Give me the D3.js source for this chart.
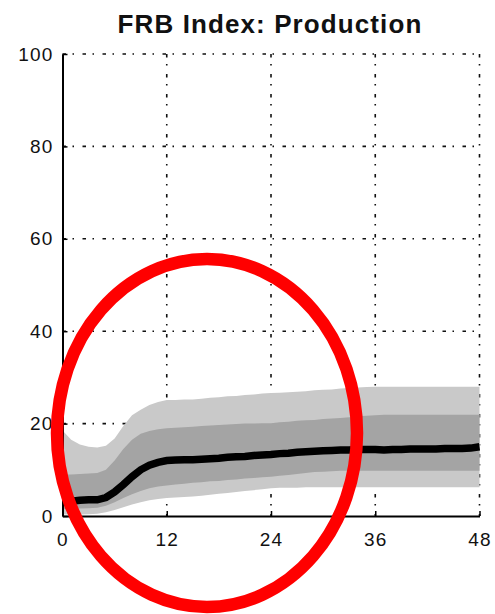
<!DOCTYPE html>
<html>
<head>
<meta charset="utf-8">
<script src="https://cdn.jsdelivr.net/npm/d3@7"></script>
<style>
  html, body { margin: 0; padding: 0; background: #fff; }
  svg { display: block; }
  .tick text { font-family: "Liberation Sans", Arial, sans-serif; }
</style>
</head>
<body>
<svg id="chart" width="495" height="614"></svg>
<script>
// ---- data (horizon in months, response of FRB production index) ----
const horizon = d3.range(0, 49);
const median = [3.0, 3.2, 3.4, 3.5, 3.5, 4.0, 5.2, 6.8, 8.5, 10.0, 11.0, 11.6, 12.0, 12.1, 12.2, 12.2, 12.3, 12.4, 12.5, 12.7, 12.8, 12.9, 13.1, 13.2, 13.3, 13.5, 13.6, 13.8, 13.9, 14.0, 14.1, 14.2, 14.3, 14.3, 14.4, 14.4, 14.4, 14.3, 14.4, 14.4, 14.5, 14.5, 14.5, 14.5, 14.6, 14.6, 14.6, 14.7, 15.0];
const outerUpper = [18.5, 16.5, 15.5, 15.0, 14.8, 15.2, 16.8, 19.5, 21.8, 23.0, 24.0, 24.7, 25.1, 25.1, 25.2, 25.2, 25.4, 25.6, 25.7, 25.9, 26.0, 26.2, 26.3, 26.5, 26.6, 26.7, 26.8, 26.9, 27.0, 27.2, 27.3, 27.4, 27.6, 27.7, 27.8, 27.9, 28.0, 28.0, 28.0, 28.0, 28.0, 28.0, 28.0, 28.0, 28.0, 28.0, 28.0, 28.0, 28.0];
const innerUpper = [9.0, 9.0, 9.1, 9.2, 9.3, 10.0, 12.0, 14.5, 16.5, 17.8, 18.4, 18.8, 19.0, 19.1, 19.2, 19.3, 19.5, 19.6, 19.7, 19.8, 19.9, 20.0, 20.0, 20.1, 20.1, 20.3, 20.4, 20.6, 20.7, 20.8, 21.0, 21.1, 21.2, 21.4, 21.6, 21.7, 21.8, 21.9, 21.9, 21.9, 21.9, 21.9, 21.9, 21.9, 21.9, 21.9, 21.9, 21.9, 21.9];
const innerLower = [1.5, 1.5, 1.6, 1.7, 1.8, 2.2, 3.0, 3.9, 4.7, 5.4, 6.0, 6.4, 6.6, 6.8, 7.0, 7.2, 7.3, 7.5, 7.6, 7.8, 7.9, 8.1, 8.2, 8.4, 8.5, 8.7, 8.9, 9.1, 9.3, 9.5, 9.6, 9.7, 9.8, 9.8, 9.8, 9.8, 9.8, 9.8, 9.8, 9.8, 9.8, 9.8, 9.8, 9.8, 9.8, 9.8, 9.8, 9.8, 9.8];
const outerLower = [0.3, 0.3, 0.3, 0.4, 0.5, 0.8, 1.3, 1.9, 2.5, 3.0, 3.4, 3.7, 3.9, 4.0, 4.1, 4.2, 4.4, 4.6, 4.8, 5.0, 5.2, 5.4, 5.6, 5.8, 6.0, 6.1, 6.1, 6.1, 6.2, 6.2, 6.2, 6.2, 6.2, 6.2, 6.2, 6.2, 6.2, 6.2, 6.2, 6.2, 6.2, 6.2, 6.2, 6.2, 6.2, 6.2, 6.2, 6.2, 6.2];
const xTicks = [0, 12, 24, 36, 48];
const yTicks = [0, 20, 40, 60, 80, 100];
const title = "FRB Index: Production";

// ---- layout ----
const svg = d3.select("#chart");
const x = d3.scaleLinear().domain([0, 48]).range([62.5, 479.5]);
const y = d3.scaleLinear().domain([0, 100]).range([516, 54]);
const font = '"Liberation Sans", Arial, sans-serif';

// grid (dotted MATLAB style)
const gridStyle = sel => sel.attr("stroke", "#111").attr("stroke-width", 1.6)
  .attr("stroke-dasharray", "3.5,6.5,1.5,8.5").attr("fill", "none");
const grid = svg.append("g");
grid.selectAll("line.v").data(xTicks.filter(d => d > 0)).join("line")
  .attr("class", "v")
  .attr("x1", d => x(d)).attr("x2", d => x(d))
  .attr("y1", y(100)).attr("y2", y(0))
  .call(gridStyle);
grid.selectAll("line.h").data(yTicks.filter(d => d > 0)).join("line")
  .attr("class", "h")
  .attr("x1", x(0)).attr("x2", x(48))
  .attr("y1", d => y(d)).attr("y2", d => y(d))
  .call(gridStyle);

// bands
const areaGen = (lo, hi) => d3.area()
  .x((d, i) => x(horizon[i]))
  .y0((d, i) => y(lo[i]))
  .y1((d, i) => y(hi[i]));
svg.append("path").datum(horizon)
  .attr("d", areaGen(outerLower, outerUpper))
  .attr("fill", "#c9c9c9");
svg.append("path").datum(horizon)
  .attr("d", areaGen(innerLower, innerUpper))
  .attr("fill", "#a4a4a4");

// median
svg.append("path").datum(horizon)
  .attr("d", d3.line().x((d, i) => x(horizon[i])).y((d, i) => y(median[i])))
  .attr("fill", "none").attr("stroke", "#000").attr("stroke-width", 7.5)
  .attr("stroke-linejoin", "miter");

// axes
const xAxis = d3.axisBottom(x).tickValues(xTicks).tickSizeInner(-5).tickSizeOuter(0).tickPadding(17);
const yAxis = d3.axisLeft(y).tickValues(yTicks).tickSizeInner(-5).tickSizeOuter(0).tickPadding(9);
const gx = svg.append("g").attr("transform", `translate(0,${y(0)})`).call(xAxis);
const gy = svg.append("g").attr("transform", `translate(${x(0)},0)`).call(yAxis);
[gx, gy].forEach(g => {
  g.select(".domain").attr("stroke", "#000").attr("stroke-width", 2);
  g.selectAll(".tick line").attr("stroke", "#000").attr("stroke-width", 1.5);
  g.selectAll(".tick text").attr("font-family", font).attr("font-size", 19)
    .attr("fill", "#111").attr("letter-spacing", 1.2);
});

// title
svg.append("text").attr("x", 270).attr("y", 33).attr("text-anchor", "middle")
  .attr("font-family", font).attr("font-weight", "bold").attr("font-size", 26)
  .attr("letter-spacing", 1.1).attr("fill", "#111").text(title);

// red annotation ellipse
svg.append("ellipse").attr("cx", 207).attr("cy", 433).attr("rx", 150).attr("ry", 174)
  .attr("fill", "none").attr("stroke", "#ff0000").attr("stroke-width", 12.5);
</script>
</body>
</html>
